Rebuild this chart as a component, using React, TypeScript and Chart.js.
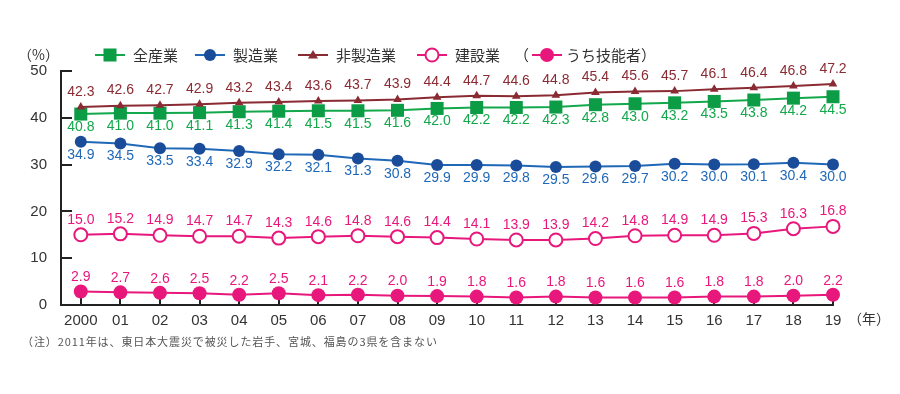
import React, { useEffect, useRef } from "react";
import { Chart, registerables } from "chart.js";

Chart.register(...registerables);

const years = ["2000", "01", "02", "03", "04", "05", "06", "07", "08", "09", "10", "11", "12", "13", "14", "15", "16", "17", "18", "19"];
const allIndustry = [40.8, 41.0, 41.0, 41.1, 41.3, 41.4, 41.5, 41.5, 41.6, 42.0, 42.2, 42.2, 42.3, 42.8, 43.0, 43.2, 43.5, 43.8, 44.2, 44.5];
const manufacturing = [34.9, 34.5, 33.5, 33.4, 32.9, 32.2, 32.1, 31.3, 30.8, 29.9, 29.9, 29.8, 29.5, 29.6, 29.7, 30.2, 30.0, 30.1, 30.4, 30.0];
const nonManufacturing = [42.3, 42.6, 42.7, 42.9, 43.2, 43.4, 43.6, 43.7, 43.9, 44.4, 44.7, 44.6, 44.8, 45.4, 45.6, 45.7, 46.1, 46.4, 46.8, 47.2];
const construction = [15.0, 15.2, 14.9, 14.7, 14.7, 14.3, 14.6, 14.8, 14.6, 14.4, 14.1, 13.9, 13.9, 14.2, 14.8, 14.9, 14.9, 15.3, 16.3, 16.8];
const skilled = [2.9, 2.7, 2.6, 2.5, 2.2, 2.5, 2.1, 2.2, 2.0, 1.9, 1.8, 1.6, 1.8, 1.6, 1.6, 1.6, 1.8, 1.8, 2.0, 2.2];
const yTicks = [0, 10, 20, 30, 40, 50];
const seriesNames = ["全産業", "製造業", "非製造業", "建設業", "うち技能者"];
const unitY = "（%）";
const unitX = "（年）";
const note = "（注）2011年は、東日本大震災で被災した岩手、宮城、福島の3県を含まない";

const GREEN = "#12a84b";
const GREEN_M = "#0b9c45";
const BLUE = "#1f68b8";
const BLUE_M = "#1a4c9a";
const RED = "#8a2a32";
const PINK = "#e8177c";
const NUM_FONT = '"Liberation Sans", Arial, sans-serif';
const JP_FONT = '"Noto Sans CJK JP", sans-serif';

const toXY = (arr: number[]) => arr.map((v, i) => ({ x: i, y: v }));

function drawMarker(ctx: CanvasRenderingContext2D, style: string, x: number, y: number, color: string) {
  ctx.save();
  ctx.fillStyle = color;
  ctx.strokeStyle = color;
  if (style === "rect") {
    ctx.fillRect(x - 6.5, y - 6.5, 13, 13);
  } else if (style === "circle") {
    ctx.beginPath();
    ctx.arc(x, y, 6, 0, Math.PI * 2);
    ctx.fill();
  } else if (style === "triangle") {
    ctx.beginPath();
    ctx.moveTo(x, y - 5);
    ctx.lineTo(x + 5, y + 3.5);
    ctx.lineTo(x - 5, y + 3.5);
    ctx.closePath();
    ctx.fill();
  } else if (style === "open") {
    ctx.fillStyle = "#fff";
    ctx.lineWidth = 2;
    ctx.beginPath();
    ctx.arc(x, y, 6.5, 0, Math.PI * 2);
    ctx.fill();
    ctx.stroke();
  } else if (style === "big") {
    ctx.beginPath();
    ctx.arc(x, y, 7, 0, Math.PI * 2);
    ctx.fill();
  }
  ctx.restore();
}

const overlayPlugin = {
  id: "overlay",
  afterDatasetsDraw(chart: any) {
    const ctx: CanvasRenderingContext2D = chart.ctx;
    ctx.save();
    ctx.font = `14px ${NUM_FONT}`;
    ctx.textAlign = "center";
    ctx.textBaseline = "middle";
    chart.data.datasets.forEach((ds: any, di: number) => {
      const meta = chart.getDatasetMeta(di);
      meta.data.forEach((el: any, i: number) => {
        const v = ds.data[i].y;
        ctx.fillStyle = ds.labelColor;
        ctx.fillText(v.toFixed(1), el.x, el.y + ds.labelOffset);
      });
    });
    ctx.restore();
  },
  afterDraw(chart: any) {
    const ctx: CanvasRenderingContext2D = chart.ctx;
    ctx.save();
    const ly = 55;
    ctx.textBaseline = "middle";
    ctx.fillStyle = "#333";
    ctx.font = `14px ${JP_FONT}`;
    ctx.textAlign = "left";
    ctx.fillText(unitY, 18, ly);

    const items = [
      { x: 95, color: GREEN, mcolor: GREEN_M, style: "rect", text: seriesNames[0] },
      { x: 195, color: BLUE, mcolor: BLUE_M, style: "circle", text: seriesNames[1] },
      { x: 298, color: RED, mcolor: RED, style: "triangle", text: seriesNames[2] },
      { x: 417, color: PINK, mcolor: PINK, style: "open", text: seriesNames[3] },
      { x: 532, color: PINK, mcolor: PINK, style: "big", text: seriesNames[4] },
    ];
    ctx.font = `15px ${JP_FONT}`;
    items.forEach((it, idx) => {
      ctx.strokeStyle = it.color;
      ctx.lineWidth = 2;
      ctx.beginPath();
      ctx.moveTo(it.x, ly);
      ctx.lineTo(it.x + 30, ly);
      ctx.stroke();
      drawMarker(ctx, it.style, it.x + 15, ly, it.mcolor);
      ctx.fillStyle = "#333";
      ctx.textAlign = "left";
      const tx = idx === 4 ? it.x + 34 : it.x + 38;
      ctx.fillText(idx === 4 ? it.text + "）" : it.text, tx, ly);
    });
    ctx.fillText("（", 514, ly);

    ctx.font = `14px ${JP_FONT}`;
    ctx.fillStyle = "#333";
    ctx.fillText(unitX, 848, 319);

    ctx.font = `11px ${JP_FONT}`;
    ctx.fillStyle = "#555";
    (ctx as any).letterSpacing = "0.9px";
    ctx.fillText(note, 22, 342);
    ctx.restore();
  },
};

export default function App() {
  const ref = useRef<HTMLCanvasElement | null>(null);
  useEffect(() => {
    document.body.style.margin = "0";
    const mk = (data: number[], color: string, mcolor: string, style: string, radius: number, labelColor: string, labelOffset: number, fill: string) => ({
      data: toXY(data),
      borderColor: color,
      borderWidth: 2,
      pointStyle: style,
      pointRadius: radius,
      pointBackgroundColor: fill,
      pointBorderColor: mcolor,
      pointBorderWidth: style === "circle" && fill === "#fff" ? 2 : 0,
      clip: false,
      labelColor,
      labelOffset,
    });
    const chart = new Chart(ref.current!, {
      type: "line",
      data: {
        datasets: [
          { ...mk(construction, PINK, PINK, "circle", 6.5, PINK, -15, "#fff"), pointBorderWidth: 2 },
          mk(skilled, PINK, PINK, "circle", 7, PINK, -14, PINK),
          mk(manufacturing, BLUE, BLUE_M, "circle", 6, BLUE, 13, BLUE_M),
          mk(nonManufacturing, RED, RED, "triangle", 5, RED, -15, RED),
          mk(allIndustry, GREEN, GREEN_M, "rect", 9.2, GREEN, 13, GREEN_M),
        ] as any,
      },
      options: {
        animation: false,
        responsive: false,
        maintainAspectRatio: false,
        layout: { padding: { left: 0, right: 67, top: 71, bottom: 59 } },
        plugins: { legend: { display: false }, tooltip: { enabled: false } },
        scales: {
          x: {
            type: "linear",
            min: -0.5,
            max: 19,
            afterBuildTicks: (s: any) => {
              s.ticks = years.map((_, i) => ({ value: i }));
            },
            afterFit: (s: any) => {
              s.height = 30;
            },
            ticks: {
              callback: (v: any) => years[v as number] ?? "",
              color: "#333",
              font: { size: 15, family: NUM_FONT },
              padding: 15,
              maxRotation: 0,
              autoSkip: false,
            },
            grid: { drawOnChartArea: false, tickLength: -8, color: "#222", lineWidth: 2 },
            border: { color: "#222", width: 2 },
          },
          y: {
            min: 0,
            max: 50,
            afterBuildTicks: (s: any) => {
              s.ticks = yTicks.map((v) => ({ value: v }));
            },
            afterFit: (s: any) => {
              s.width = 61;
            },
            ticks: {
              color: "#333",
              font: { size: 15, family: NUM_FONT },
              padding: 25,
            },
            grid: { drawOnChartArea: false, tickLength: -11, color: "#222", lineWidth: 2 },
            border: { color: "#222", width: 2 },
          },
        },
      },
      plugins: [overlayPlugin],
    });
    return () => chart.destroy();
  }, []);
  return (
    <div style={{ width: 900, height: 394 }}>
      <canvas ref={ref} width={900} height={394} style={{ width: 900, height: 394, display: "block" }} />
    </div>
  );
}
